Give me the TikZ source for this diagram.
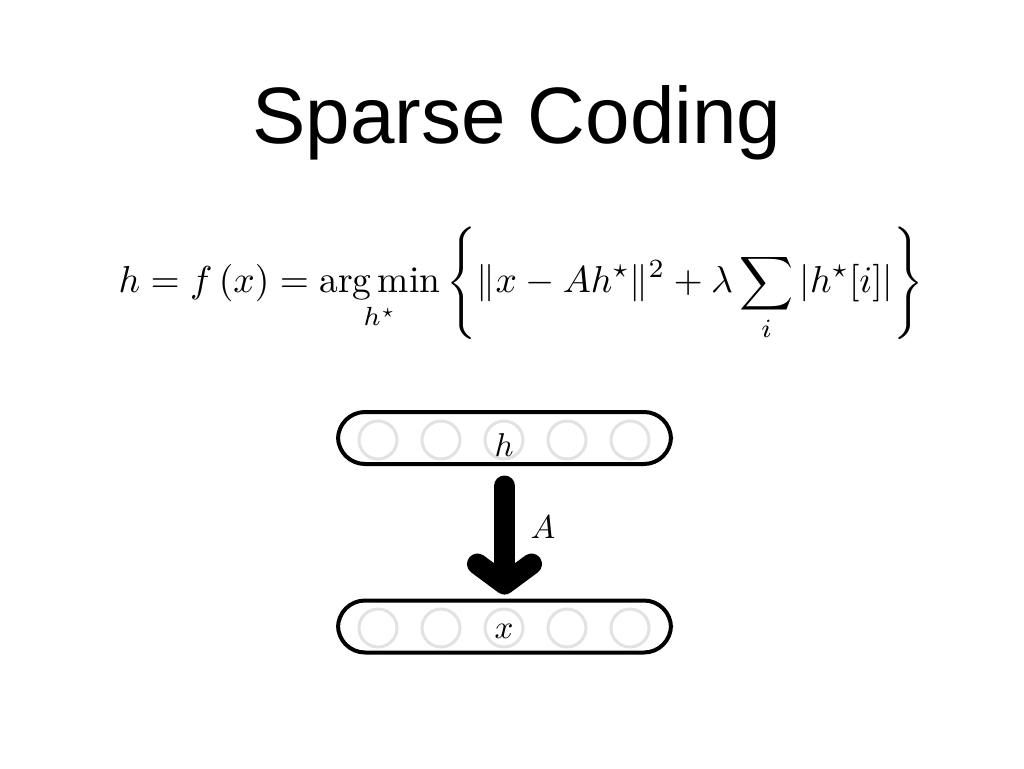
\documentclass[tikz,border=0pt]{standalone}
\usepackage{fontspec}
\usetikzlibrary{arrows.meta}
\newfontfamily\titlefont{Liberation Sans}
\definecolor{sccolor0000}{RGB}{0,0,0}
\definecolor{sccolor0001}{RGB}{226,226,226}
\definecolor{sccolor0002}{RGB}{255,255,255}

\begin{document}
\begin{tikzpicture}[yscale=-1
,barstyle/.style={draw=sccolor0000,line width=4pt,rounded corners=27pt,minimum width=333pt,minimum height=52pt,inner sep=0pt}
,unitstyle/.style={circle,draw=sccolor0001,line width=3pt,minimum size=38pt,inner sep=0pt}
,labstyle/.style={scale=3.3,inner sep=0pt}
,arrowstyle/.style={draw=sccolor0000,line width=21pt,line cap=round,-{Straight Barb[length=20pt,width=54pt,round]}}
]
\useasboundingbox[fill=sccolor0002] (0pt,0pt) rectangle (1024pt,768pt);
\node at (517pt,123pt)[font=\titlefont\fontsize{80}{86}\selectfont] (title) {Sparse Coding};
\node at (521pt,284pt)[scale=3.75] (eqn) {$\displaystyle h=f\,(x)=\mathop{\arg\min}_{h^\star}\left\{\|x-Ah^\star\|^2+\lambda\sum_i\left|h^\star[i]\right|\right\}$};
\node at (504.5pt,438pt)[barstyle] (hbar) {};
\node at (378pt,440pt)[unitstyle] (h1) {};
\node at (441pt,440pt)[unitstyle] (h2) {};
\node at (504pt,440pt)[unitstyle] (h3) {};
\node at (567pt,440pt)[unitstyle] (h4) {};
\node at (630pt,440pt)[unitstyle] (h5) {};
\node at (504pt,445pt)[labstyle] (hlab) {$h$};
\node at (504.5pt,626.5pt)[barstyle] (xbar) {};
\node at (378pt,628pt)[unitstyle] (x1) {};
\node at (441pt,628pt)[unitstyle] (x2) {};
\node at (504pt,628pt)[unitstyle] (x3) {};
\node at (567pt,628pt)[unitstyle] (x4) {};
\node at (630pt,628pt)[unitstyle] (x5) {};
\node at (504pt,631pt)[labstyle] (xlab) {$x$};
\draw[arrowstyle,shorten <=20pt,shorten >=4pt] (hbar.south) -- (xbar.north);
\node at (543pt,527pt)[labstyle] (alab) {$A$};
\end{tikzpicture}
\end{document}
